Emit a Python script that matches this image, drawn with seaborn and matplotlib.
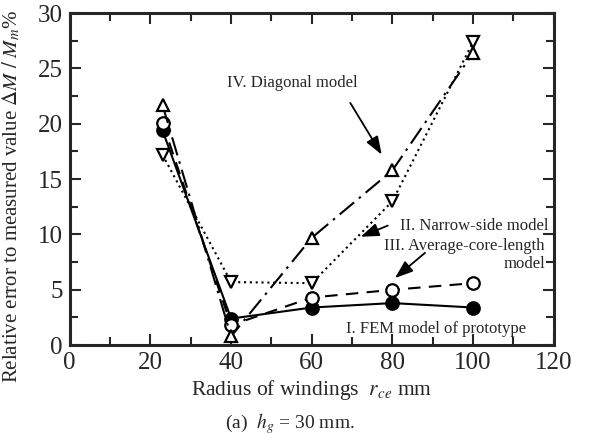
"""Relative error of winding models vs radius of windings (h_g = 30 mm)."""

import matplotlib
matplotlib.use("Agg")
import matplotlib.pyplot as plt
import pandas as pd
import seaborn as sns

radius = [23, 40, 60, 80, 100]
fem_prototype = [19.4, 2.4, 3.4, 3.8, 3.4]
narrow_side = [17.2, 5.7, 5.6, 13.0, 27.4]
average_core = [20.1, 1.8, 4.3, 5.0, 5.6]
diagonal = [21.7, 0.8, 9.7, 15.8, 26.4]

x_ticks = [0, 20, 40, 60, 80, 100, 120]
y_ticks = [0, 5, 10, 15, 20, 25, 30]


def build_frame() -> pd.DataFrame:
    parts = []
    for name, values in [("I", fem_prototype), ("II", narrow_side),
                         ("III", average_core), ("IV", diagonal)]:
        parts.append(pd.DataFrame({"radius": radius, "error": values, "model": name}))
    return pd.concat(parts, ignore_index=True)


def main() -> None:
    sns.set_style("ticks")
    plt.rcParams["font.family"] = ["Liberation Serif", "DejaVu Serif"]
    plt.rcParams["mathtext.fontset"] = "stix"

    data = build_frame()
    fig = plt.figure(figsize=(5.91, 4.38), dpi=100)
    ax = fig.add_axes([0.118, 0.212, 0.819, 0.758])

    styles = {
        "I": dict(linestyle="-", marker="o", markerfacecolor="black"),
        "II": dict(linestyle=(0, (1.0, 1.8)), marker="v", markerfacecolor="white"),
        "III": dict(linestyle=(0, (6, 4)), marker="o", markerfacecolor="white"),
        "IV": dict(linestyle=(0, (9, 3, 1.2, 3)), marker="^", markerfacecolor="white"),
    }
    for name, st in styles.items():
        sub = data[data["model"] == name]
        sns.lineplot(data=sub, x="radius", y="error", ax=ax, color="black",
                     linewidth=1.5, markersize=9, markeredgecolor="black",
                     markeredgewidth=1.6, **st)

    ax.set_xlim(0, 120)
    ax.set_ylim(0, 30)
    ax.set_xticks(x_ticks)
    ax.set_yticks(y_ticks)
    ax.set_xticks(range(10, 120, 20), minor=True)
    ax.set_yticks([2.5 + 5 * i for i in range(6)], minor=True)
    ax.tick_params(which="both", direction="in", top=True, right=True,
                   width=1.5, labelsize=18)
    ax.tick_params(which="major", length=8)
    ax.tick_params(which="minor", length=6)
    ax.tick_params(axis="x", which="major", pad=5)
    ax.tick_params(axis="y", which="major", pad=5)
    for spine in ax.spines.values():
        spine.set_linewidth(2.2)
        spine.set_visible(True)

    ax.set_xlabel(r"Radius of windings  $r_{ce}$ mm", fontsize=15.5, labelpad=3)
    ax.set_ylabel(r"Relative error to measured value $\mathit{\Delta}M\ /\ M_m$%",
                  fontsize=15)
    ax.yaxis.set_label_coords(-0.097, 0.45)

    arrow = dict(arrowstyle="-|>,head_length=1.1,head_width=0.4",
                 color="black", linewidth=1.3)
    ax.annotate("IV. Diagonal model", xy=(77.7, 17.0), xytext=(55.3, 23.7),
                fontsize=12, ha="center", va="center")
    ax.annotate("", xy=(77.7, 17.0), xytext=(69.2, 22.1), arrowprops=arrow)
    ax.annotate("II. Narrow-side model", xy=(71.5, 9.7), xytext=(118.7, 10.8),
                fontsize=12, ha="right", va="center")
    ax.annotate("", xy=(71.5, 9.7), xytext=(79.5, 10.9), arrowprops=arrow)
    ax.text(117.8, 9.0, "III. Average-core-length", fontsize=12, ha="right", va="center")
    ax.text(117.8, 7.3, "model", fontsize=12, ha="right", va="center")
    ax.annotate("", xy=(80.1, 5.9), xytext=(88.6, 8.5), arrowprops=arrow)
    ax.text(90.9, 1.5, "I. FEM model of prototype", fontsize=12, ha="center", va="center")

    fig.text(0.49, 0.034, r"(a)  $h_g$ = 30 mm.", fontsize=14, ha="center", va="center")

    fig.savefig("out.png", dpi=100)


if __name__ == "__main__":
    main()
